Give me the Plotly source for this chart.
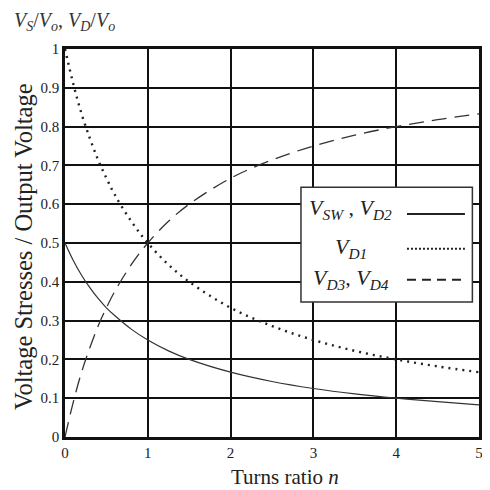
import plotly.graph_objects as go

# Turns ratio n
n_vals = [0, 0.1, 0.2, 0.3, 0.4, 0.5, 0.6, 0.8, 1.0, 1.25, 1.5, 2.0, 2.5, 3.0, 3.5, 4.0, 4.5, 5.0]
v_sw_d2 = [0.5, 0.455, 0.417, 0.385, 0.357, 0.333, 0.313, 0.278, 0.25, 0.222, 0.2, 0.167, 0.143, 0.125, 0.111, 0.1, 0.091, 0.083]
v_d1 = [1.0, 0.91, 0.833, 0.77, 0.714, 0.667, 0.625, 0.556, 0.5, 0.444, 0.4, 0.333, 0.286, 0.25, 0.222, 0.2, 0.182, 0.167]
v_d3_d4 = [0.0, 0.09, 0.167, 0.23, 0.286, 0.333, 0.375, 0.444, 0.5, 0.556, 0.6, 0.667, 0.714, 0.75, 0.778, 0.8, 0.818, 0.833]

x_ticks = [0, 1, 2, 3, 4, 5]
y_ticks = [0, 0.1, 0.2, 0.3, 0.4, 0.5, 0.6, 0.7, 0.8, 0.9, 1]
y_tick_text = ["0", "0.1", "0.2", "0.3", "0.4", "0.5", "0.6", "0.7", "0.8", "0.9", "1"]

legend_labels = ["<i>V<sub>SW</sub></i> , <i>V<sub>D2</sub></i>", "<i>V<sub>D1</sub></i>", "<i>V<sub>D3</sub></i>, <i>V<sub>D4</sub></i>"]
legend_dash = ["solid", "2px,2px", "9px,6px"]

FONT = "Liberation Serif"
INK = "#222"

fig = go.Figure()
fig.add_trace(go.Scatter(x=n_vals, y=v_sw_d2, mode="lines", line=dict(color="#333", width=1.2, shape="spline"), showlegend=False))
fig.add_trace(go.Scatter(x=n_vals, y=v_d1, mode="lines", line=dict(color=INK, width=2.4, dash="2px,5px", shape="spline"), showlegend=False))
fig.add_trace(go.Scatter(x=n_vals, y=v_d3_d4, mode="lines", line=dict(color="#333", width=1.3, dash="15px,8px", shape="spline"), showlegend=False))

# custom legend box (text left, sample right)
shapes = [dict(type="rect", xref="x", yref="y", x0=2.85, x1=4.92, y0=0.348, y1=0.644,
               fillcolor="white", line=dict(color="#333", width=1.5), layer="above")]
line_y = [0.575, 0.485, 0.405]
text_y = [0.588, 0.487, 0.407]
text_x = [3.45, 3.45, 3.45]
annotations = []
for i, lab in enumerate(legend_labels):
    annotations.append(dict(x=text_x[i], y=text_y[i], xref="x", yref="y", text=lab, showarrow=False,
                            font=dict(family=FONT, size=22, color=INK)))
    shapes.append(dict(type="line", xref="x", yref="y", x0=4.13, x1=4.83, y0=line_y[i], y1=line_y[i],
                       line=dict(color=INK, width=2, dash=legend_dash[i]), layer="above"))

# top-left quantity label
annotations.append(dict(x=-0.128, y=1.033, xref="paper", yref="paper", xanchor="left", yanchor="bottom",
                        text="<i>V<sub>S</sub></i>/<i>V<sub>o</sub></i>, <i>V<sub>D</sub></i>/<i>V<sub>o</sub></i>",
                        showarrow=False, font=dict(family=FONT, size=20, color="#333")))
# y axis title
annotations.append(dict(x=-0.1, y=0.491, xref="paper", yref="paper", xanchor="center", yanchor="middle",
                        text="Voltage Stresses / Output Voltage", textangle=-90,
                        showarrow=False, font=dict(family=FONT, size=24.5, color=INK)))
# x axis title
annotations.append(dict(x=0.531, y=-0.102, xref="paper", yref="paper", xanchor="center", yanchor="middle",
                        text="Turns ratio <i>n</i>",
                        showarrow=False, font=dict(family=FONT, size=21, color=INK)))

fig.update_layout(
    width=482, height=482,
    margin=dict(l=57, r=7, t=41, b=53),
    paper_bgcolor="white", plot_bgcolor="white",
    shapes=shapes, annotations=annotations,
    xaxis=dict(range=[0, 5], tickvals=x_ticks, showgrid=True, gridcolor="#111", gridwidth=1.6,
               showline=True, mirror=True, linecolor="#111", linewidth=2.5, zeroline=False,
               tickfont=dict(family=FONT, size=15, color=INK), ticks="", ticklabeloverflow="allow"),
    yaxis=dict(range=[0, 1], tickvals=y_ticks, ticktext=y_tick_text, showgrid=True, gridcolor="#111", gridwidth=1.6,
               showline=True, mirror=True, linecolor="#111", linewidth=2.5, zeroline=False,
               tickfont=dict(family=FONT, size=15, color=INK), ticks="", ticklabeloverflow="allow"),
)

fig.write_html("out.html")
